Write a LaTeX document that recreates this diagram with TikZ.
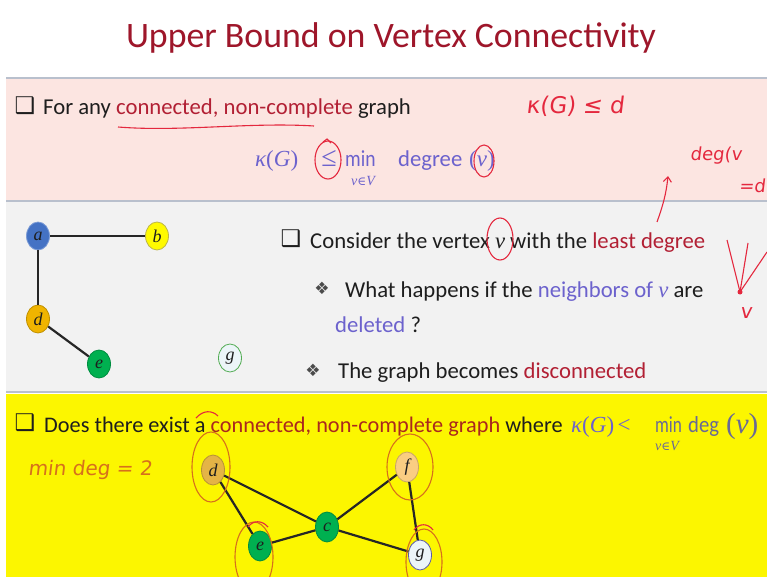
\documentclass[tikz,border=0pt]{standalone}
\usepackage{fontspec}
\setmainfont{Carlito}
\newfontfamily\symf{DejaVu Sans}
\newfontfamily\handf{DejaVu Sans}[FakeSlant=0.12]
\newfontfamily\serf{Liberation Serif}
\newfontfamily\dsf{DejaVu Serif}
\newcommand\mi[1]{{\serf\itshape #1}}
\newcommand\mup[1]{{\serf #1}}
\usetikzlibrary{arrows.meta,shapes.geometric}
\definecolor{titlered}{RGB}{158,22,42}
\definecolor{dred}{RGB}{178,32,52}
\definecolor{dredy}{RGB}{170,40,30}
\definecolor{bpurple}{RGB}{108,98,205}
\definecolor{gblue}{RGB}{105,105,150}
\definecolor{pinkbg}{RGB}{252,229,225}
\definecolor{graybg}{RGB}{242,242,242}
\definecolor{yellowbg}{RGB}{252,246,0}
\definecolor{bandline}{RGB}{185,192,205}
\definecolor{penred}{RGB}{228,40,62}
\definecolor{penorange}{RGB}{214,112,28}
\definecolor{txtc}{RGB}{30,30,30}
\definecolor{ablue}{RGB}{68,114,196}
\definecolor{byellow}{RGB}{255,250,0}
\definecolor{dgold}{RGB}{240,180,0}
\definecolor{egreen}{RGB}{0,176,80}
\definecolor{dgold2}{RGB}{228,180,70}
\definecolor{forange}{RGB}{250,205,130}
\definecolor{gwhite}{RGB}{236,245,248}
\tikzset{
  txt/.style={font=\fontsize{22.7}{26}\selectfont, inner sep=0pt, anchor=base west, text=txtc},
  mth/.style={font=\fontsize{23}{26}\selectfont, inner sep=0pt, anchor=base west, text=bpurple},
  sub/.style={font=\fontsize{14}{14}\selectfont, inner sep=0pt, text=bpurple},
  chk/.style={font=\symf\fontsize{23}{23}\selectfont, inner sep=0pt, text=txtc},
  dia/.style={font=\symf\fontsize{17}{17}\selectfont, inner sep=0pt, text=txtc!80},
  hand/.style={font=\handf\fontsize{20}{22}\selectfont, inner sep=0pt},
  vtx/.style={ellipse, draw, line width=0.8pt, minimum width=23pt, minimum height=28pt, inner sep=0pt, font=\serf\itshape\fontsize{18}{18}\selectfont, text=txtc},
  edge/.style={line width=2.2pt, black!85},
  pen/.style={penred, line width=1.1pt},
  peno/.style={penorange, line width=1.1pt}
}
\begin{document}
\begin{tikzpicture}[x=1pt,y=-1pt]
\useasboundingbox (0,0) rectangle (767,577);
\fill[white] (0,0) rectangle (767,577);
% bands
\fill[pinkbg] (6,78) rectangle (767,200);
\draw[bandline, line width=2.5pt] (6,78) -- (767,78);
\fill[graybg] (6,202) rectangle (767,392);
\draw[bandline, line width=1.5pt] (6,201) -- (767,201);
\draw[bandline, line width=1.5pt] (6,392) -- (767,392);
\fill[yellowbg] (6,394) rectangle (767,577);

% title
\node[font=\fontsize{35.8}{40}\selectfont, text=titlered] (title) at (391,38) {Upper Bound on Vertex Connectivity};

% ---- pink band
\node[chk] (cb1) at (25,106) {❑};
\node[txt] (t1) at (43,115) {For any \textcolor{dred}{connected, non-complete} graph};
\draw[pen] (118,127) .. controls (180,132) and (250,122) .. (314,126);
\node[hand, text=penred, font=\handf\fontsize{23}{24}\selectfont] (h1) at (575,106) {κ(G) ≤ d};

\node[mth] (kG) at (255,167) {\mi{κ}\mup{(}\mi{G}\mup{)}};
\node[mth, anchor=base, font=\fontsize{28}{28}\selectfont] (le) at (329,167) {\mup{≤}};
\node[mth] (mn) at (345,167) {\scalebox{0.85}[1]{min}};
\node[sub] (vV) at (363,181) {\mi{v}{\dsf\fontsize{12}{12}\selectfont ∈}\mi{V}};
\node[txt, text=bpurple] (deg) at (398,167) {degree};
\node[mth] (pv) at (469,167) {\mup{(}\mi{v}\mup{)}};
\draw[pen] (328,160) ellipse (13 and 19);
\draw[pen] (323,142) -- (327,139) -- (331,143);
\draw[pen] (484,161) ellipse (10 and 16);

\node[hand, text=penred, font=\handf\fontsize{18}{20}\selectfont] (h2) at (716,156) {deg(v};
\node[hand, text=penred, font=\handf\fontsize{18}{20}\selectfont] (h3) at (752,186) {=d};
\draw[pen, -{Straight Barb[length=5pt,width=8pt]}] (657,222) .. controls (663,205) and (666,195) .. (668,176);

% ---- middle band graph
\node[vtx, fill=ablue, draw=ablue!70] (a) at (38,236) {a};
\node[vtx, fill=byellow, draw=olive!60] (b) at (157,236) {b};
\node[vtx, fill=dgold, draw=dgold!80!black] (d) at (38,319) {d};
\node[vtx, fill=egreen, draw=egreen!80!black] (e) at (99,364) {e};
\node[vtx, fill=gwhite, draw=green!35!gray] (g) at (230,358) {g};
\draw[edge] (a) -- (b);
\draw[edge] (a) -- (d);
\draw[edge] (d) -- (e);

\node[chk] (cb2) at (291,239) {❑};
\node[txt] (t2) at (310,248) {Consider the vertex \mi{v} with the \textcolor{dred}{least degree}};
\draw[pen] (500,239) ellipse (13 and 21);
\node[dia] (bl1) at (322,288) {❖};
\node[txt] (t3) at (345,297) {What happens if the \textcolor{bpurple}{neighbors of \mi{v}} are};
\node[txt] (t4) at (335,332) {\textcolor{bpurple}{deleted} ?};
\node[dia] (bl2) at (313,370) {❖};
\node[txt] (t5) at (338,378) {The graph becomes \textcolor{dred}{disconnected}};

\coordinate (vs) at (740,292);
\draw[pen] (727,240) -- (vs);
\draw[pen] (748,243) -- (vs);
\draw[pen] (767,252) -- (vs);
\fill[penred] (vs) circle (2.5);
\node[hand, text=penred] (hv) at (746,313) {v};

% ---- yellow band
\node[chk] (cb3) at (25,423) {❑};
\node[txt, font=\fontsize{22.3}{26}\selectfont] (t6) at (44,432) {Does there exist a \textcolor{dredy}{connected, non-complete graph} where};
\node[mth] (k2) at (571,432) {\mi{κ}\mup{(}\mi{G}\mup{)}};
\node[mth, anchor=base] (lt) at (624,432) {\mup{<}};
\node[mth, text=gblue] (mn2) at (655,432) {\scalebox{0.75}[1]{min}};
\node[sub, text=gblue] (vV2) at (667,446) {\mi{v}{\dsf\fontsize{12}{12}\selectfont ∈}\mi{V}};
\node[mth, text=gblue] (deg2) at (688,432) {\scalebox{0.9}[1]{deg}};
\node[mth, text=gblue, font=\fontsize{29}{30}\selectfont] (pv2) at (726,433) {\mup{(}\mi{v}\mup{)}};
\draw[pen] (196,418) .. controls (203,410) and (212,410) .. (218,416);

\node[hand, text=penorange] (h4) at (90,470) {min deg = 2};

\node[vtx, minimum height=30pt, fill=dgold2, draw=dgold2!80!black] (d2) at (213,470) {d};
\node[vtx, minimum height=30pt, fill=forange, draw=forange!80!black] (f2) at (407,467) {f};
\node[vtx, minimum height=30pt, fill=egreen, draw=egreen!80!black] (c2) at (327,527) {c};
\node[vtx, minimum height=30pt, fill=egreen, draw=egreen!80!black] (e2) at (260,546) {e};
\node[vtx, minimum height=30pt, fill=gwhite, draw=blue!30!gray] (g2) at (420,555) {g};
\draw[edge] (d2) -- (c2);
\draw[edge] (d2) -- (e2);
\draw[edge] (e2) -- (c2);
\draw[edge] (c2) -- (f2);
\draw[edge] (c2) -- (g2);
\draw[edge] (f2) -- (g2);

\draw[peno] (211,467) ellipse (19 and 35);
\draw[peno] (410,467) ellipse (23 and 33);
\draw[peno] (254,557) ellipse (19 and 35);
\draw[peno] (424,562) ellipse (18 and 33);
\draw[pen] (248,527) .. controls (253,520) and (262,520) .. (268,527);
\draw[pen] (414,530) .. controls (419,523) and (428,523) .. (433,530);
\end{tikzpicture}
\end{document}
